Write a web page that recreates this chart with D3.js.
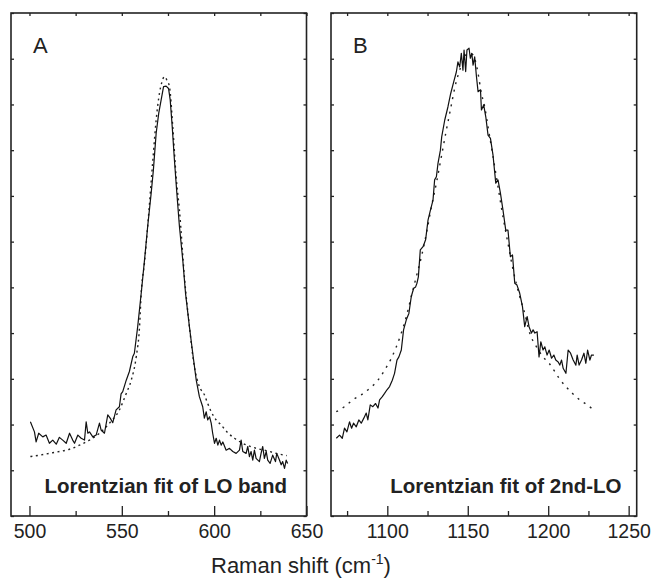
<!DOCTYPE html>
<html>
<head>
<meta charset="utf-8">
<script src="https://cdn.jsdelivr.net/npm/d3@7"></script>
<style>
  body { margin: 0; background: #fff; }
  svg text { font-family: "Liberation Sans", Arial, Helvetica, sans-serif; fill: #222; }
</style>
</head>
<body>
<div id="chart"></div>
<script>
// Panel A: LO band (measured spectrum and Lorentzian fit)
const shiftA = [500.5, 502.7, 503.6, 505.0, 507.2, 509.0, 510.8, 512.6, 514.5, 516.2, 518.0, 519.9, 521.7, 523.4, 524.4, 526.2, 528.0, 529.8, 530.7, 531.6, 532.5, 534.3, 536.1, 537.9, 538.8, 540.6, 542.4, 543.7, 545.1, 546.9, 548.7, 549.6, 550.5, 552.4, 554.1, 555.9, 556.8, 558.6, 560.5, 562.3, 564.0, 565.9, 567.1, 568.6, 570.0, 571.3, 572.6, 574.0, 575.3, 576.2, 577.3, 578.5, 579.8, 581.2, 583.0, 584.5, 586.6, 588.4, 590.3, 592.0, 593.8, 594.7, 595.7, 596.5, 597.5, 598.4, 599.2, 600.2, 601.1, 602.0, 602.9, 603.8, 604.7, 606.5, 608.3, 610.1, 611.9, 613.7, 614.6, 615.5, 617.3, 618.2, 619.1, 620.0, 620.9, 621.8, 622.7, 624.5, 625.4, 626.3, 627.2, 628.2, 629.0, 630.3, 631.7, 633.2, 633.9, 635.4, 636.3, 637.1, 638.1, 639.0, 639.8];
const ramanA = [2.06, 1.84, 1.62, 1.81, 1.73, 1.77, 1.59, 1.66, 1.57, 1.72, 1.66, 1.59, 1.81, 1.66, 1.59, 1.77, 1.70, 1.66, 2.06, 1.81, 1.84, 1.73, 1.77, 2.03, 1.88, 1.81, 2.21, 2.14, 2.04, 2.32, 2.39, 2.67, 2.72, 2.97, 3.16, 3.48, 3.56, 4.14, 4.87, 5.60, 6.33, 7.06, 7.57, 8.37, 8.81, 9.10, 9.39, 9.40, 9.35, 9.10, 8.51, 7.78, 7.06, 6.33, 5.60, 4.87, 4.14, 3.56, 2.97, 2.61, 2.39, 2.14, 2.28, 2.10, 2.17, 2.03, 1.81, 1.59, 1.70, 1.55, 1.66, 1.55, 1.62, 1.44, 1.48, 1.41, 1.37, 1.44, 1.66, 1.41, 1.37, 1.52, 1.30, 1.41, 1.22, 1.44, 1.26, 1.19, 1.37, 1.52, 1.26, 1.41, 1.22, 1.15, 1.33, 1.19, 1.37, 1.22, 1.12, 1.19, 1.04, 1.22, 1.15];
const fitShiftA = [500.5, 505.4, 510.8, 516.2, 521.7, 527.1, 532.5, 537.9, 543.3, 548.7, 552.4, 555.1, 557.8, 559.6, 560.5, 562.3, 564.0, 566.8, 568.6, 570.4, 571.7, 573.1, 574.4, 575.8, 577.6, 579.4, 581.2, 583.9, 586.6, 589.3, 592.0, 594.7, 596.5, 598.4, 601.1, 603.8, 607.4, 611.0, 615.5, 619.1, 622.7, 628.2, 633.6, 639.3];
const fitA = [1.30, 1.33, 1.37, 1.41, 1.46, 1.55, 1.66, 1.81, 2.03, 2.32, 2.68, 2.97, 3.48, 4.14, 4.87, 5.55, 6.33, 7.78, 8.66, 9.25, 9.49, 9.61, 9.53, 9.39, 8.51, 7.42, 6.69, 5.23, 4.14, 3.26, 2.83, 2.65, 2.46, 2.28, 2.10, 1.99, 1.82, 1.70, 1.59, 1.53, 1.48, 1.43, 1.37, 1.32];

// Panel B: second-order LO band
const shiftB = [1068.3, 1070.3, 1072.0, 1073.4, 1074.9, 1076.5, 1077.8, 1079.0, 1080.7, 1082.3, 1083.8, 1085.4, 1086.9, 1087.9, 1089.4, 1091.0, 1092.7, 1094.2, 1095.2, 1096.9, 1098.3, 1099.8, 1101.4, 1103.1, 1104.5, 1106.0, 1107.2, 1108.7, 1110.1, 1111.8, 1113.4, 1114.9, 1116.4, 1117.6, 1118.4, 1119.3, 1120.5, 1122.2, 1123.8, 1125.3, 1126.8, 1128.4, 1129.4, 1130.5, 1131.5, 1133.0, 1133.8, 1135.7, 1137.7, 1139.4, 1141.3, 1142.9, 1143.9, 1145.0, 1146.0, 1147.0, 1147.7, 1148.7, 1149.5, 1150.8, 1151.6, 1152.5, 1153.3, 1154.3, 1155.4, 1156.4, 1157.9, 1158.5, 1159.9, 1161.2, 1162.6, 1164.1, 1165.7, 1167.4, 1168.8, 1170.3, 1171.9, 1173.6, 1175.0, 1176.5, 1177.8, 1179.2, 1180.6, 1182.3, 1184.0, 1185.4, 1186.9, 1188.1, 1189.6, 1190.6, 1191.7, 1193.1, 1194.3, 1195.4, 1196.8, 1197.9, 1199.3, 1200.6, 1202.1, 1203.5, 1204.7, 1206.2, 1207.2, 1208.3, 1209.3, 1211.0, 1212.4, 1213.9, 1215.5, 1217.2, 1218.0, 1219.2, 1220.7, 1222.2, 1223.4, 1224.5, 1225.9, 1226.9, 1228.4];
const ramanB = [1.70, 1.77, 1.70, 1.92, 1.84, 2.06, 1.92, 2.03, 1.95, 2.10, 2.03, 2.14, 2.25, 2.10, 2.43, 2.39, 2.46, 2.36, 2.54, 2.61, 2.68, 2.76, 2.83, 2.97, 3.12, 3.41, 3.48, 3.63, 4.07, 4.29, 4.43, 4.80, 4.98, 5.01, 5.09, 5.23, 5.82, 5.89, 6.04, 6.47, 6.69, 6.91, 7.35, 7.42, 7.71, 8.00, 8.29, 8.66, 8.95, 9.24, 9.50, 9.71, 9.93, 9.82, 10.12, 9.75, 10.19, 9.72, 10.19, 10.23, 10.01, 10.12, 9.86, 10.04, 9.61, 9.28, 9.32, 8.88, 8.99, 8.73, 8.33, 8.26, 7.89, 7.28, 7.35, 7.06, 6.69, 6.25, 6.25, 5.67, 5.71, 5.09, 5.05, 4.87, 4.58, 4.14, 4.36, 4.14, 4.00, 4.07, 4.00, 4.03, 3.48, 3.81, 3.63, 3.70, 3.52, 3.63, 3.45, 3.52, 3.41, 3.37, 3.30, 3.41, 3.23, 3.12, 3.63, 3.56, 3.41, 3.30, 3.52, 3.30, 3.41, 3.56, 3.34, 3.63, 3.41, 3.52, 3.52];
const fitShiftB = [1068.3, 1073.4, 1078.6, 1083.8, 1089.0, 1094.2, 1098.3, 1102.5, 1105.6, 1108.7, 1111.8, 1114.9, 1118.0, 1121.2, 1124.3, 1127.4, 1130.5, 1133.6, 1136.7, 1139.8, 1141.9, 1144.4, 1146.9, 1149.3, 1151.2, 1153.3, 1155.4, 1156.4, 1158.5, 1160.5, 1162.6, 1165.7, 1168.8, 1171.9, 1175.0, 1178.2, 1182.3, 1185.4, 1188.5, 1192.7, 1196.8, 1200.6, 1203.5, 1206.8, 1211.0, 1215.1, 1219.2, 1223.8, 1227.9];
const fitB = [2.28, 2.39, 2.54, 2.65, 2.79, 2.97, 3.19, 3.45, 3.70, 4.00, 4.36, 4.80, 5.23, 5.67, 6.18, 6.76, 7.28, 7.86, 8.44, 8.99, 9.36, 9.69, 9.93, 10.10, 10.12, 10.08, 9.86, 9.68, 9.24, 8.95, 8.51, 7.86, 7.20, 6.54, 5.96, 5.38, 4.80, 4.43, 4.00, 3.70, 3.48, 3.34, 3.19, 3.01, 2.83, 2.68, 2.55, 2.44, 2.33];

const xTicksA = [500, 550, 600, 650];
const xMinorA = [525, 575, 625];
const xTicksB = [1100, 1150, 1200, 1250];
const xMinorB = [1075, 1125, 1175, 1225];
const yTicks = d3.range(0, 12);

const panelLabels = ["A", "B"];
const captions = ["Lorentzian fit of LO band", "Lorentzian fit of 2nd-LO"];
const xTitle = "Raman shift (cm";

const width = 652, height = 578;
const plotTop = 13, plotBottom = 516;

const svg = d3.select("#chart").append("svg")
    .attr("width", width)
    .attr("height", height);

const y = d3.scaleLinear().domain([0, 11]).range([plotBottom, plotTop]);

const panels = [
    { x: d3.scaleLinear().domain([490, 650]).range([11, 306.5]),
      shift: shiftA, raman: ramanA, fitShift: fitShiftA, fit: fitA,
      ticks: xTicksA, minor: xMinorA, dash: "2,3.5" },
    { x: d3.scaleLinear().domain([1065, 1255]).range([331, 636.7]),
      shift: shiftB, raman: ramanB, fitShift: fitShiftB, fit: fitB,
      ticks: xTicksB, minor: xMinorB, dash: "2,5.5" }
];

panels.forEach((p, i) => {
    const x = p.x;
    const [x0, x1] = x.range();
    const g = svg.append("g");

    // inward ticks on all four sides
    const bottomAxis = g.append("g")
        .attr("transform", "translate(0," + plotBottom + ")")
        .call(d3.axisBottom(x).tickValues(p.ticks).tickSize(-10).tickPadding(8).tickFormat(d3.format("d")));
    bottomAxis.selectAll("text").attr("font-size", 19.5).style("fill", "#222");

    g.append("g")
        .attr("transform", "translate(0," + plotBottom + ")")
        .call(d3.axisBottom(x).tickValues(p.minor).tickSize(-5).tickFormat(""));

    g.append("g")
        .attr("transform", "translate(0," + plotTop + ")")
        .call(d3.axisTop(x).tickValues(p.ticks.concat(p.minor)).tickSize(-3).tickFormat(""));

    g.append("g")
        .attr("transform", "translate(" + x0 + ",0)")
        .call(d3.axisLeft(y).tickValues(yTicks).tickSize(-3).tickFormat(""));

    g.append("g")
        .attr("transform", "translate(" + x1 + ",0)")
        .call(d3.axisRight(y).tickValues(yTicks).tickSize(-3).tickFormat(""));

    g.selectAll(".domain").remove();
    g.selectAll(".tick line").attr("stroke", "#222").attr("stroke-width", 1.3);

    g.append("rect")
        .attr("x", x0).attr("y", plotTop)
        .attr("width", x1 - x0).attr("height", plotBottom - plotTop)
        .attr("fill", "none")
        .attr("stroke", "#222")
        .attr("stroke-width", 1.6);

    const line = d3.line()
        .x(d => x(d[0]))
        .y(d => y(d[1]));

    g.append("path")
        .datum(d3.zip(p.fitShift, p.fit))
        .attr("d", line.curve(d3.curveMonotoneX))
        .attr("fill", "none")
        .attr("stroke", "#222")
        .attr("stroke-width", 1.4)
        .attr("stroke-dasharray", p.dash);

    g.append("path")
        .datum(d3.zip(p.shift, p.raman))
        .attr("d", line.curve(d3.curveLinear))
        .attr("fill", "none")
        .attr("stroke", "#111")
        .attr("stroke-width", 1.2)
        .attr("stroke-linejoin", "round");

    g.append("text")
        .attr("x", x0 + 22)
        .attr("y", 53)
        .attr("font-size", 22)
        .text(panelLabels[i]);

    g.append("text")
        .attr("x", i === 0 ? 287 : 621.5)
        .attr("y", 493)
        .attr("text-anchor", "end")
        .attr("font-size", 20.5)
        .attr("font-weight", "bold")
        .text(captions[i]);
});

const title = svg.append("text")
    .attr("x", 211)
    .attr("y", 573)
    .attr("font-size", 22);
title.append("tspan").text(xTitle);
title.append("tspan").attr("font-size", 14).attr("dy", -9).text("-1");
title.append("tspan").attr("dy", 9).text(")");
</script>
</body>
</html>
